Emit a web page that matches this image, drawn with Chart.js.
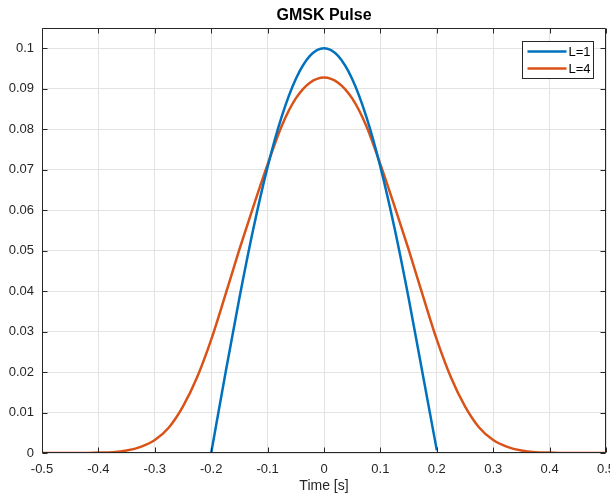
<!DOCTYPE html>
<html>
<head>
<meta charset="utf-8">
<script src="https://cdn.jsdelivr.net/npm/chart.js@4.4.0/dist/chart.umd.min.js"></script>
<style>
  html, body { margin: 0; padding: 0; background: #fff; }
</style>
</head>
<body>
<canvas id="myChart" width="610" height="496"></canvas>
<script>
// values
const timeL1 = [-0.2, -0.175, -0.15, -0.125, -0.1, -0.075, -0.05, -0.025, 0,
  0.025, 0.05, 0.075, 0.1, 0.125, 0.15, 0.175, 0.2];
const pulseL1 = [0, 0.0195, 0.0383, 0.0556, 0.0707, 0.0831, 0.0924, 0.0981, 0.1,
  0.0981, 0.0924, 0.0831, 0.0707, 0.0556, 0.0383, 0.0195, 0.0007];

const timeL4 = [-0.5, -0.475, -0.45, -0.425, -0.4, -0.375, -0.35, -0.325, -0.3, -0.275,
  -0.25, -0.225, -0.2, -0.175, -0.15, -0.125, -0.1, -0.075, -0.05, -0.025, 0,
  0.025, 0.05, 0.075, 0.1, 0.125, 0.15, 0.175, 0.2, 0.225, 0.25,
  0.275, 0.3, 0.325, 0.35, 0.375, 0.4, 0.425, 0.45, 0.475, 0.5];
const pulseL4 = [0, 0, 0, 0, 0.0001, 0.0002, 0.0006, 0.0015, 0.0032, 0.0063,
  0.0115, 0.0187, 0.028, 0.039, 0.0503, 0.061, 0.0713, 0.0808, 0.0876, 0.0915, 0.0928,
  0.0915, 0.0876, 0.0808, 0.0713, 0.061, 0.0503, 0.039, 0.028, 0.0187, 0.0115,
  0.0063, 0.0032, 0.0015, 0.0006, 0.0002, 0.0001, 0, 0, 0, 0];

const seriesNames = ['L=1', 'L=4'];
const seriesColors = ['#0072BD', '#D95319'];

const xTicks = [-0.5, -0.4, -0.3, -0.2, -0.1, 0, 0.1, 0.2, 0.3, 0.4, 0.5];
const yTicks = [0, 0.01, 0.02, 0.03, 0.04, 0.05, 0.06, 0.07, 0.08, 0.09, 0.1];

const axisColor = '#262626';
Chart.defaults.font.family = '"Liberation Sans", Arial, Helvetica, sans-serif';
Chart.defaults.color = axisColor;

function fmt(v) {
  return String(parseFloat(v.toFixed(3)));
}

// box round the axes, ticks pointing inward, legend inside top right
const matlabBox = {
  id: 'matlabBox',
  afterDraw(chart) {
    const ctx = chart.ctx;
    const a = chart.chartArea;
    const xs = chart.scales.x;
    const ys = chart.scales.y;
    const L = Math.round(a.left) + 0.5, R = Math.round(a.right) - 0.5;
    const T = Math.round(a.top) + 0.5, B = Math.round(a.bottom) - 0.5;
    ctx.save();
    ctx.strokeStyle = axisColor;
    ctx.lineWidth = 1;
    ctx.beginPath();
    ctx.rect(L, T, R - L, B - T);
    xTicks.forEach(v => {
      const px = Math.round(xs.getPixelForValue(v)) + 0.5;
      ctx.moveTo(px, B); ctx.lineTo(px, B - 5);
      ctx.moveTo(px, T); ctx.lineTo(px, T + 5);
    });
    yTicks.forEach(v => {
      const py = Math.round(ys.getPixelForValue(v)) + 0.5;
      ctx.moveTo(L, py); ctx.lineTo(L + 5, py);
      ctx.moveTo(R, py); ctx.lineTo(R - 5, py);
    });
    ctx.stroke();

    // legend
    const bw = 71, bh = 37;
    const bx = Math.round(a.right) - 13 - bw + 0.5;
    const by = Math.round(a.top) + 13 + 0.5;
    ctx.fillStyle = '#fff';
    ctx.fillRect(bx, by, bw, bh);
    ctx.strokeRect(bx, by, bw, bh);
    ctx.font = '13px "Liberation Sans", Arial, sans-serif';
    ctx.textBaseline = 'middle';
    seriesNames.forEach((name, i) => {
      const y = by + 10 + i * 17;
      ctx.strokeStyle = seriesColors[i];
      ctx.lineWidth = 2.5;
      ctx.beginPath();
      ctx.moveTo(bx + 5, y);
      ctx.lineTo(bx + 44, y);
      ctx.stroke();
      ctx.fillStyle = '#000';
      ctx.fillText(name, bx + 46, y + 0.5);
    });
    ctx.restore();
  }
};

new Chart(document.getElementById('myChart'), {
  type: 'line',
  data: {
    datasets: [
      {
        label: seriesNames[0],
        data: timeL1.map((t, i) => ({ x: t, y: pulseL1[i] })),
        borderColor: seriesColors[0],
        borderWidth: 2.5,
        pointRadius: 0,
        fill: false,
        cubicInterpolationMode: 'monotone'
      },
      {
        label: seriesNames[1],
        data: timeL4.map((t, i) => ({ x: t, y: pulseL4[i] })),
        borderColor: seriesColors[1],
        borderWidth: 2.5,
        pointRadius: 0,
        fill: false,
        cubicInterpolationMode: 'monotone'
      }
    ]
  },
  options: {
    responsive: false,
    animation: false,
    events: [],
    devicePixelRatio: 1,
    layout: { padding: { left: 0, right: 4, top: 0, bottom: 0 } },
    plugins: {
      legend: { display: false },
      tooltip: { enabled: false },
      title: {
        display: true,
        text: 'GMSK Pulse',
        fullSize: false,
        color: '#000',
        font: { size: 16, weight: 'bold' },
        padding: { top: 6, bottom: 2.8 }
      }
    },
    scales: {
      x: {
        type: 'linear',
        min: -0.5,
        max: 0.5,
        afterBuildTicks: s => { s.ticks = xTicks.map(v => ({ value: v })); },
        afterFit: s => { s.height = 43; s.paddingLeft = 0; s.paddingRight = 0; },
        grid: { color: '#e3e3e3', drawTicks: false },
        border: { display: false },
        ticks: {
          autoSkip: false,
          maxRotation: 0,
          padding: 9,
          font: { size: 13 },
          callback: v => fmt(v)
        },
        title: {
          display: true,
          text: 'Time [s]',
          font: { size: 14 },
          padding: { top: 0, bottom: 1 }
        }
      },
      y: {
        type: 'linear',
        min: 0,
        max: 0.105,
        afterBuildTicks: s => { s.ticks = yTicks.map(v => ({ value: v })); },
        afterFit: s => { s.width = 42; s.paddingTop = 0; s.paddingBottom = 0; },
        grid: { color: '#e3e3e3', drawTicks: false },
        border: { display: false },
        ticks: {
          autoSkip: false,
          padding: 8,
          font: { size: 13 },
          callback: v => fmt(v)
        }
      }
    }
  },
  plugins: [matlabBox]
});
</script>
</body>
</html>
